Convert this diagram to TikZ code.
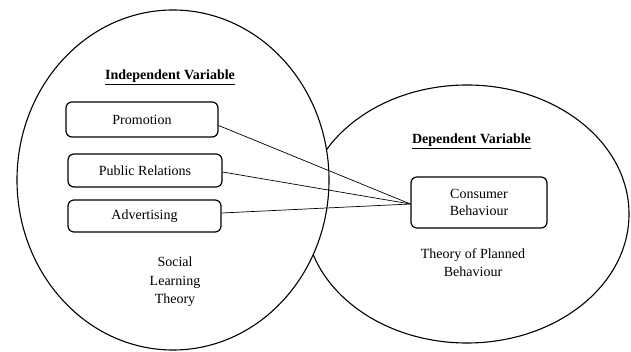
\documentclass[tikz,border=0pt]{standalone}
\usepackage{fontspec}
\setmainfont{Liberation Serif}
\begin{document}
\begin{tikzpicture}[x=1pt,y=-1pt,
  every node/.style={font=\fontsize{14}{17.5}\selectfont, inner sep=0pt},
  varbox/.style={draw, line width=1.2pt, rounded corners=6pt, align=center},
  conn/.style={line width=0.7pt},
  oval/.style={draw, fill=white, line width=1.1pt}]
\useasboundingbox (0,0) rectangle (631,352);
\filldraw[oval] (467,214) ellipse [x radius=162pt, y radius=129pt];
\filldraw[oval] (173,180) ellipse [x radius=156pt, y radius=170pt];
\node (indep) at (170,77) {\textbf{\underline{Independent Variable}}};
\node (dep) at (471.5,141) {\textbf{\underline{Dependent Variable}}};
\node[varbox, minimum width=152pt, minimum height=35pt] (prom) at (142,119.5) {Promotion};
\node[varbox, minimum width=154pt, minimum height=33pt] (pr) at (145,170.5) {Public Relations};
\node[varbox, minimum width=153pt, minimum height=32pt] (adv) at (144.5,216) {Advertising};
\node[varbox, minimum width=136pt, minimum height=51pt, font=\fontsize{14}{16.5}\selectfont] (cb) at (479,202.5) {Consumer\\Behaviour};
\node[align=center, font=\fontsize{14}{18.5}\selectfont] (slt) at (175,282) {Social\\Learning\\Theory};
\node[align=center, font=\fontsize{14}{18}\selectfont] (tpb) at (473,263) {Theory of Planned\\Behaviour};
\coordinate (cbin) at ([yshift=-1.5pt]cb.west);
\draw[conn] ([yshift=-6pt]prom.east) -- (cbin);
\draw[conn] ([yshift=-1.5pt]pr.east) -- (cbin);
\draw[conn] ([yshift=3pt]adv.east) -- (cbin);
\end{tikzpicture}
\end{document}
